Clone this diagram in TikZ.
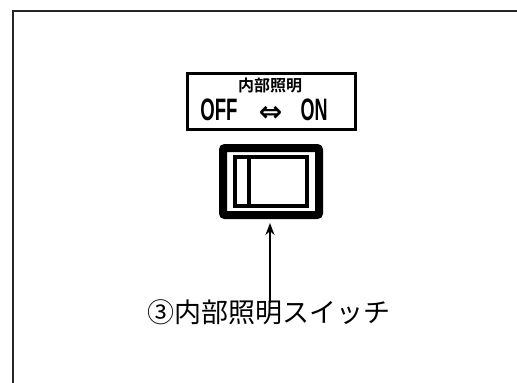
\documentclass[tikz,border=0pt]{standalone}
\usepackage{fontspec}
\usepackage{graphicx}
\setmainfont{Liberation Sans}
\newfontfamily\jp{Noto Sans CJK JP}
\newfontfamily\jpb{Noto Sans CJK JP Bold}
\newfontfamily\dv{DejaVu Sans}
\usetikzlibrary{arrows.meta}
\begin{document}
\begin{tikzpicture}[x=1pt,y=-1pt,
  frame/.style={line width=1.4pt, black!85},
  platebox/.style={draw, line width=3pt, minimum width=168pt, minimum height=56pt, inner sep=0pt},
  swouter/.style={draw, line width=8pt, minimum width=96pt, minimum height=67pt, rounded corners=2pt, inner sep=0pt},
  swinner/.style={draw, line width=4.5pt, minimum width=72pt, minimum height=49pt, inner sep=0pt},
  txt/.style={inner sep=0pt, anchor=base},
  pointer/.style={-{Stealth[length=12pt,width=9pt]}, line width=2.2pt}
]
\useasboundingbox (0,0) rectangle (517,383);
\draw[frame] (13,383) -- (13,11) -- (517,11);
\node[platebox] (plate) at (271.5,101.5) {};
\node[txt] (cap) at (270,91) {\fontsize{16}{16}\jpb 内部照明};
\node[txt] (off) at (219,120) {\scalebox{0.6}[1]{\fontsize{31}{31}\selectfont\bfseries OFF}};
\node[txt] (dbl) at (270.5,121) {\fontsize{28}{28}\dv\bfseries ⇔};
\node[txt] (on) at (314,120) {\scalebox{0.58}[1]{\fontsize{31}{31}\selectfont\bfseries ON}};
\node[swouter] (sw) at (271,181.5) {};
\node[swinner] (rocker) at (271,181.5) {};
\draw[line width=4.5pt] ([xshift=16pt]rocker.north west) -- ([xshift=16pt]rocker.south west);
\node[txt] (lbl) at (269,322) {\fontsize{27}{27}\jp ③内部照明スイッチ};
\coordinate (tail) at (270,303);
\coordinate (tip) at ([yshift=-4pt]sw.south);
\draw[pointer] (tail) -- (tip -| tail);
\end{tikzpicture}
\end{document}
